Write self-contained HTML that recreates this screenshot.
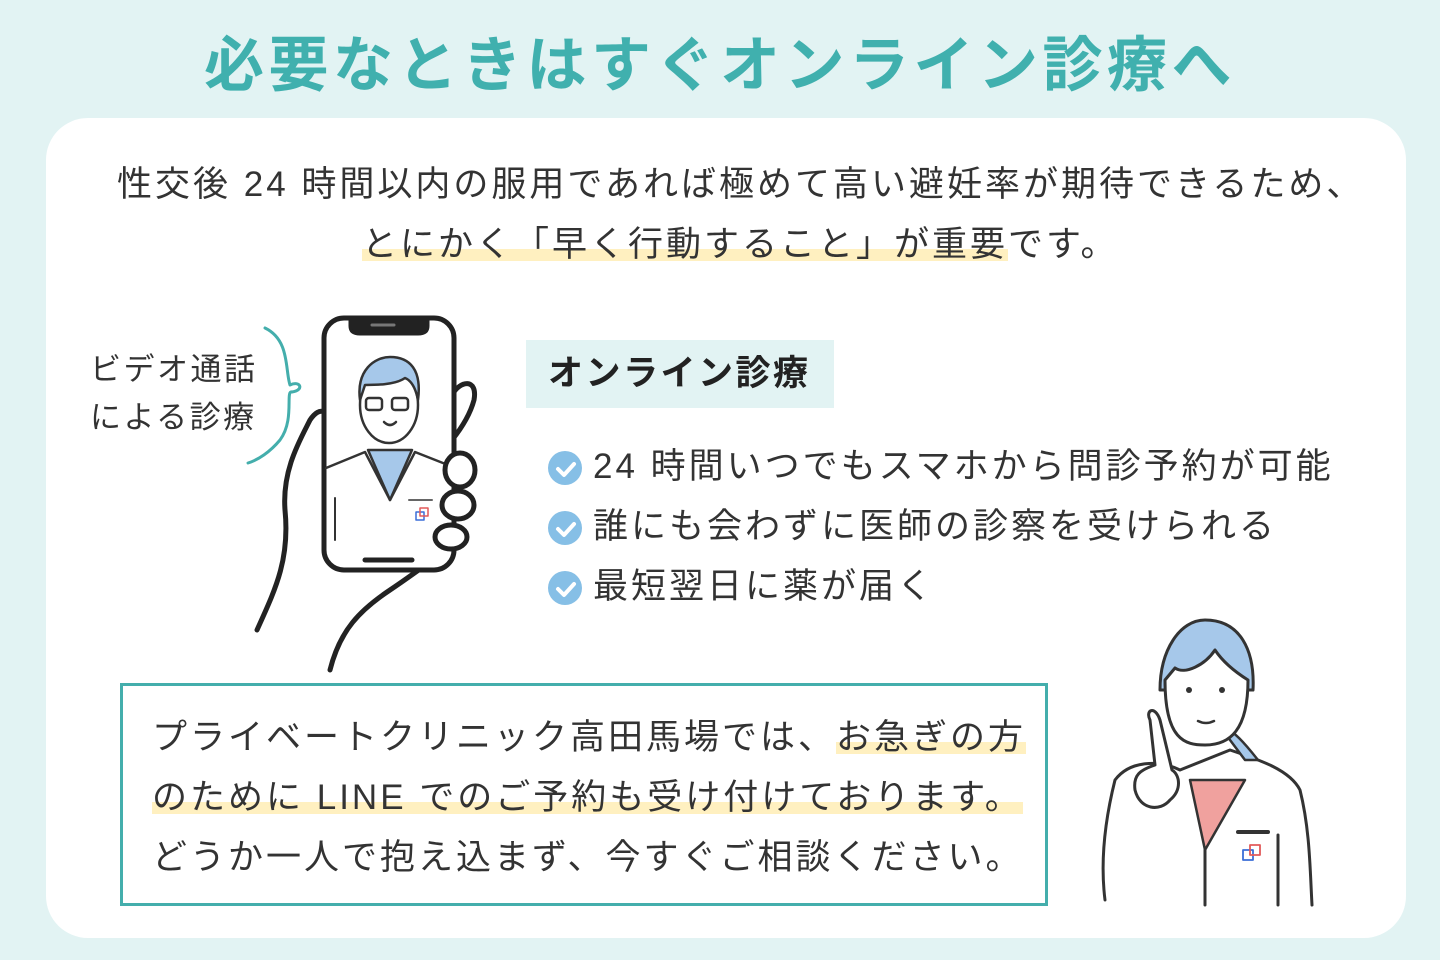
<!DOCTYPE html>
<html><head><meta charset="utf-8"><style>
*{margin:0;padding:0;box-sizing:border-box}
body{width:1440px;height:960px;background:#e2f3f3;position:relative;overflow:hidden;font-family:"Liberation Sans","Noto Sans CJK JP",sans-serif;color:#333}
.abs{position:absolute;white-space:nowrap}
.title{left:0;width:1440px;top:26px;text-align:center;font-size:60px;font-weight:bold;color:#40b0ae;line-height:80px;letter-spacing:4.5px}
.card{left:46px;top:118px;width:1360px;height:820px;background:#fff;border-radius:42px}
.t36{font-size:35px;line-height:44px;letter-spacing:3px}
.hl{background:linear-gradient(transparent 62%,#fff0c0 62%,#fff0c0 92%,transparent 92%)}
.head{left:526px;top:340px;width:308px;height:68px;background:#e2f3f3;font-size:35px;font-weight:bold;line-height:68px;padding-left:22px;color:#222;letter-spacing:2.5px}
.chk{position:absolute;left:-45px;top:6px;width:34px;height:34px;border-radius:50%;background:#86bfe6}
.box{left:120px;top:683px;width:928px;height:223px;border:3px solid #44aeac}
</style></head><body>
<div class="abs title">必要なときはすぐオンライン診療へ</div>
<div class="abs card"></div>
<div class="abs t36" style="left:117px;top:163px">性交後 24 時間以内の服用であれば極めて高い避妊率が期待できるため、</div>
<div class="abs t36" style="left:362px;top:223px"><span class="hl">とにかく「早く行動すること」が重要</span>です。</div>

<div class="abs" style="left:90px;top:346px;font-size:31px;line-height:48px;letter-spacing:2.5px">ビデオ通話<br>による診療</div>

<svg class="abs" style="left:0;top:0" width="1440" height="960" fill="none" stroke-linecap="round" stroke-linejoin="round">
<path d="M265 328 C290 340 285 370 290 385 C300 380 305 390 292 392 C285 390 295 420 280 440 C270 452 258 460 248 463" stroke="#44aeac" stroke-width="3"/>
<path d="M330 670 C340 630 360 610 390 590 C420 570 430 560 438 560" stroke="#222" stroke-width="5"/>
<path d="M257 630 C275 590 290 560 285 510 C282 470 300 440 310 420 C320 405 330 410 330 430 L330 500" stroke="#222" stroke-width="5"/>
<path d="M452 395 C460 380 478 378 474 400 C470 415 460 430 452 440" stroke="#222" stroke-width="5"/>
<rect x="324" y="318" width="130" height="252" rx="20" fill="#fff" stroke="#222" stroke-width="5"/>
<path d="M350 318 L350 326 C350 332 354 334 360 334 L418 334 C424 334 428 332 428 326 L428 318 Z" fill="#222" stroke="#222" stroke-width="3"/>
<line x1="372" y1="325" x2="394" y2="325" stroke="#777" stroke-width="3"/>
<line x1="365" y1="560" x2="412" y2="560" stroke="#222" stroke-width="5"/>
<path d="M326 468 L365 452 L390 500 L415 452 L448 465" stroke="#333" stroke-width="2.5"/>
<path d="M368 450 L390 500 L412 450 Z" fill="#a6c8ea" stroke="#333" stroke-width="2.5"/>
<ellipse cx="389" cy="405" rx="29" ry="38" fill="#fff" stroke="#333" stroke-width="2.5"/>
<path d="M360 400 C356 370 375 357 390 357 C410 357 422 370 418 400 C415 385 410 380 405 378 C395 385 375 385 365 385 Z" fill="#a6c8ea" stroke="#333" stroke-width="2.5"/>
<rect x="366" y="398" width="16" height="12" rx="3" stroke="#333" stroke-width="2.5"/>
<rect x="392" y="398" width="16" height="12" rx="3" stroke="#333" stroke-width="2.5"/>
<path d="M384 422 Q390 428 396 422" stroke="#333" stroke-width="2.5"/>
<line x1="335" y1="498" x2="335" y2="540" stroke="#333" stroke-width="2"/>
<line x1="409" y1="500" x2="432" y2="500" stroke="#666" stroke-width="2"/>
<rect x="416" y="512" width="8" height="8" stroke="#3b6fd8" stroke-width="1.5"/><rect x="420" y="508" width="8" height="8" stroke="#e25a5a" stroke-width="1.5"/>
<ellipse cx="460" cy="470" rx="15" ry="17" fill="#fff" stroke="#222" stroke-width="5"/>
<ellipse cx="458" cy="505" rx="16" ry="14" fill="#fff" stroke="#222" stroke-width="5"/>
<ellipse cx="451" cy="537" rx="16" ry="12" fill="#fff" stroke="#222" stroke-width="5"/>
<path d="M1105 900 C1100 860 1105 820 1115 780 C1130 760 1160 760 1180 770 L1230 750 C1260 760 1290 770 1300 790 C1310 830 1310 870 1312 905" fill="#fff" stroke="#333" stroke-width="3"/>
<path d="M1190 780 L1245 780 L1205 850 Z" fill="#f0a19e" stroke="#333" stroke-width="2.5"/>
<line x1="1205" y1="850" x2="1205" y2="905" stroke="#333" stroke-width="3"/>
<line x1="1278" y1="835" x2="1278" y2="905" stroke="#333" stroke-width="3"/>
<line x1="1238" y1="832" x2="1268" y2="832" stroke="#333" stroke-width="4"/>
<rect x="1243" y="850" width="10" height="10" stroke="#3b6fd8" stroke-width="1.8"/><rect x="1250" y="845" width="10" height="10" stroke="#e25a5a" stroke-width="1.8"/>
<path d="M1215 720 C1235 730 1250 750 1258 760 L1245 760 Z" fill="#a6c8ea" stroke="#333" stroke-width="2.5"/>
<path d="M1160 690 C1160 650 1180 620 1205 620 C1240 620 1255 650 1253 690 Z" fill="#a6c8ea" stroke="#333" stroke-width="3"/>
<path d="M1165 680 C1165 740 1185 745 1205 745 C1230 745 1248 730 1248 680 C1240 675 1225 665 1215 650 C1205 665 1185 675 1175 668 Z" fill="#fff" stroke="#333" stroke-width="3"/>
<circle cx="1189" cy="690" r="3" fill="#333"/><circle cx="1222" cy="690" r="3" fill="#333"/>
<path d="M1198 721 Q1206 725 1214 721" stroke="#333" stroke-width="2.5"/>
<path d="M1150 720 C1145 710 1155 705 1160 720 L1172 770 C1180 775 1182 790 1170 800 C1160 812 1140 810 1135 790 C1133 775 1140 770 1155 765 Z" fill="#fff" stroke="#333" stroke-width="3"/>
</svg>

<div class="abs head">オンライン診療</div>
<div class="abs t36" style="left:593px;top:445px"><span class="chk"></span>24 時間いつでもスマホから問診予約が可能</div>
<div class="abs t36" style="left:593px;top:505px"><span class="chk"></span>誰にも会わずに医師の診察を受けられる</div>
<div class="abs t36" style="left:593px;top:565px"><span class="chk"></span>最短翌日に薬が届く</div>
<svg class="abs" style="left:548px;top:450px" width="40" height="150"><g fill="none" stroke="#fff" stroke-width="4" stroke-linecap="round" stroke-linejoin="round"><path d="M10 19 L16 25 L26 14"/><path d="M10 79 L16 85 L26 74"/><path d="M10 139 L16 145 L26 134"/></g></svg>

<div class="abs box"></div>
<div class="abs t36" style="left:152px;top:708px;line-height:60px">プライベートクリニック高田馬場では、<span class="hl">お急ぎの方</span><br><span class="hl">のために LINE でのご予約も受け付けております。</span><br>どうか一人で抱え込まず、今すぐご相談ください。</div>
</body></html>
